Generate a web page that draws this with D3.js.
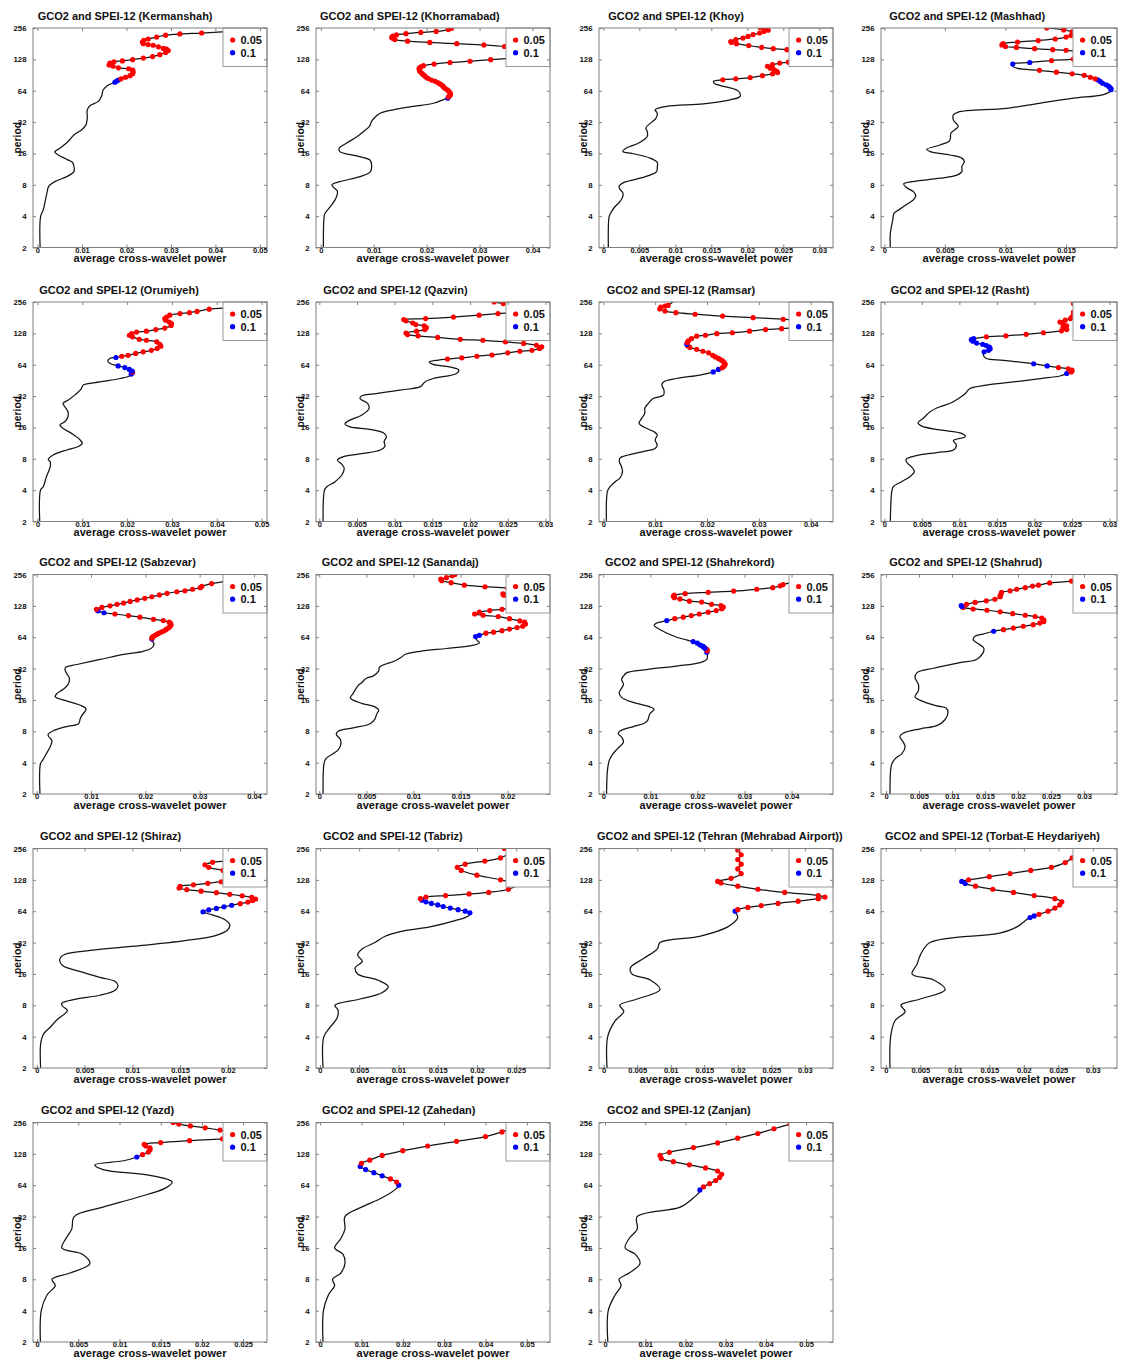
<!DOCTYPE html>
<html><head><meta charset="utf-8">
<script src="https://cdn.jsdelivr.net/npm/d3@7"></script>
<style>
body{margin:0;background:#fff}
text{font-family:"Liberation Sans",Arial,sans-serif;font-weight:bold;fill:#111}
</style>
</head><body>
<svg id="chart" width="1124" height="1360"></svg>
<script>
// ---------------- DATA ----------------
const stations = ["Kermanshah","Khorramabad","Khoy","Mashhad","Orumiyeh","Qazvin","Ramsar","Rasht",
  "Sabzevar","Sanandaj","Shahrekord","Shahrud","Shiraz","Tabriz","Tehran (Mehrabad Airport)",
  "Torbat-E Heydariyeh","Yazd","Zahedan","Zanjan"];
const titlePrefix = "GCO2 and SPEI-12";
const xLabel = "average cross-wavelet power";
const yLabel = "period";
const legendLabels = ["0.05","0.1"];
// log2(period) of the y ticks, and their labels
const yTickExp = [1,2,3,4,5,6,7,8];
const yTickLabels = [2,4,8,16,32,64,128,256];
const xDomains = [
  [-0.0010,0.0516],[-0.0009,0.0433],[-0.0006,0.0319],[-0.00027,0.0192],
  [-0.0010,0.0512],[-0.00044,0.0306],[-0.00083,0.0443],[-0.00044,0.0310],
  [-0.00068,0.0424],[-0.00035,0.0245],[-0.0009,0.0488],[-0.00076,0.0350],
  [-0.0004,0.0241],[-0.0005,0.0293],[-0.0007,0.0342],[-0.0007,0.0335],
  [-0.0005,0.0279],[-0.0010,0.0556],[-0.0015,0.0567]];
const xTicks = [
  [0,0.01,0.02,0.03,0.04,0.05],[0,0.01,0.02,0.03,0.04],[0,0.005,0.01,0.015,0.02,0.025,0.03],[0,0.005,0.01,0.015],
  [0,0.01,0.02,0.03,0.04,0.05],[0,0.005,0.01,0.015,0.02,0.025,0.03],[0,0.01,0.02,0.03,0.04],[0,0.005,0.01,0.015,0.02,0.025,0.03],
  [0,0.01,0.02,0.03,0.04],[0,0.005,0.01,0.015,0.02],[0,0.01,0.02,0.03,0.04],[0,0.005,0.01,0.015,0.02,0.025,0.03],
  [0,0.005,0.01,0.015,0.02],[0,0.005,0.01,0.015,0.02,0.025],[0,0.005,0.01,0.015,0.02,0.025,0.03],[0,0.005,0.01,0.015,0.02,0.025,0.03],
  [0,0.005,0.01,0.015,0.02,0.025],[0,0.01,0.02,0.03,0.04,0.05],[0,0.01,0.02,0.03,0.04,0.05]];

// Each point: [log2(period), average cross-wavelet power, significance flag (1 = 0.05, 2 = 0.1)]
const kermanshah = [[1.00,.0006],[1.98,.0007],[2.20,.0013],[2.52,.0018],[2.78,.0022],[2.94,.0025],[3.10,.0039],[3.26,.0066],[3.42,.0082],[3.58,.0082],[3.71,.0079],[3.81,.0066],[3.95,.0047],[4.05,.0039],[4.17,.0051],[4.38,.0069],[4.59,.0082],[4.75,.0099],[4.91,.0109],[5.12,.0112],[5.39,.0112],[5.52,.0118],[5.66,.0137],[5.82,.0144],[6.03,.0148],[6.16,.0157],[6.24,.0169],
 [6.27,.0174,2],[6.31,.0178,2],[6.34,.0182,2],
 [6.38,.0188,1],[6.43,.0198,1],[6.48,.0208,1],[6.54,.0214,1],[6.60,.0215,1],[6.66,.0214,1],[6.70,.0205,1],[6.73,.0182,1],[6.78,.0170,1],[6.82,.0161,1],[6.88,.0163,1],[6.92,.0172,1],[6.95,.0191,1],[6.99,.0214,1],[7.04,.0238,1],[7.09,.0259,1],[7.15,.0275,1],[7.22,.0288,1],[7.28,.0294,1],[7.33,.0290,1],[7.35,.0283,1],[7.40,.0272,1],[7.45,.0260,1],[7.47,.0249,1],[7.50,.0238,1],[7.55,.0236,1],[7.61,.0239,1],[7.65,.0249,1],[7.71,.0268,1],[7.77,.0288,1],[7.81,.0320,1],[7.84,.0369,1],[7.89,.0433,1],[7.95,.0520,1]];
const khorramabad = [[1.00,.0005],[1.93,.0006],[2.09,.0008],[2.30,.0018],[2.52,.0027],[2.68,.0031],[2.81,.0031],[2.92,.0024],[3.00,.0021],[3.10,.0036],[3.26,.0074],[3.42,.0094],[3.63,.0096],[3.79,.0093],[3.92,.0068],[4.06,.0036],[4.17,.0035],[4.33,.0049],[4.54,.0069],[4.70,.0081],[4.86,.0092],[5.02,.0096],[5.16,.0103],[5.28,.0112],[5.39,.0137],[5.50,.0175],[5.60,.0213],[5.71,.0231],
 [5.76,.0240,2],
 [5.80,.0241,1],[5.85,.0244,1],[5.89,.0245,1],[5.94,.0244,1],[5.98,.0242,1],[6.03,.0239,1],[6.07,.0235,1],[6.12,.0232,1],[6.16,.0230,1],[6.21,.0226,1],[6.25,.0222,1],[6.30,.0216,1],[6.34,.0209,1],[6.39,.0203,1],[6.43,.0199,1],[6.48,.0196,1],[6.52,.0193,1],[6.57,.0190,1],[6.62,.0187,1],[6.67,.0186,1],[6.72,.0186,1],[6.76,.0189,1],[6.80,.0194,1],[6.85,.0214,1],[6.90,.0244,1],[6.94,.0282,1],[6.99,.0321,1],[7.04,.0364,1],[7.12,.0410,1],[7.22,.0430,1],[7.32,.0400,1],[7.41,.0347,1],[7.46,.0308,1],[7.50,.0257,1],[7.54,.0206,1],[7.58,.0164,1],[7.63,.0140,1],[7.67,.0136,1],[7.70,.0134,1],[7.74,.0136,1],[7.78,.0143,1],[7.82,.0161,1],[7.86,.0189,1],[7.89,.0218,1],[7.95,.0241,1],[7.99,.0247,1]];
const khoy = [[1.00,.0007],[1.98,.0008],[2.09,.0010],[2.30,.0016],[2.46,.0023],[2.62,.0027],[2.75,.0027],[2.86,.0023],[2.96,.0022],[3.07,.0028],[3.18,.0046],[3.31,.0065],[3.42,.0074],[3.58,.0075],[3.71,.0075],[3.85,.0065],[3.99,.0042],[4.06,.0027],[4.17,.0032],[4.33,.0049],[4.54,.0061],[4.70,.0061],[4.81,.0059],[4.96,.0065],[5.12,.0073],[5.28,.0075],[5.39,.0072],[5.50,.0088],[5.58,.0139],[5.71,.0176],[5.82,.0190],[5.98,.0188],[6.12,.0171],[6.22,.0155],[6.30,.0153],
 [6.35,.0166,1],[6.38,.0184,1],[6.42,.0204,1],[6.48,.0221,1],[6.54,.0235,1],[6.58,.0242,1],[6.62,.0241,1],[6.65,.0238,1],[6.69,.0236,1],[6.72,.0232,1],[6.78,.0228,1],[6.83,.0235,1],[6.88,.0245,1],[6.91,.0257,1],[6.96,.0270,1],[7.05,.0290,1],[7.15,.0295,1],[7.24,.0275,1],[7.31,.0255,1],[7.34,.0236,1],[7.38,.0220,1],[7.44,.0202,1],[7.50,.0185,1],[7.54,.0178,1],[7.57,.0177,1],[7.63,.0184,1],[7.68,.0194,1],[7.73,.0201,1],[7.79,.0208,1],[7.84,.0217,1],[7.89,.0223,1],[7.93,.0229,1],[7.97,.0225,1],[8.01,.0218,1]];
const mashhad = [[1.00,.0005],[1.45,.0005],[1.88,.0007],[2.09,.0008],[2.20,.0012],[2.36,.0018],[2.52,.0024],[2.64,.0026],[2.78,.0024],[2.92,.0018],[3.03,.0016],[3.10,.0023],[3.21,.0046],[3.31,.0060],[3.42,.0064],[3.58,.0064],[3.74,.0066],[3.85,.0064],[3.95,.0054],[4.06,.0038],[4.13,.0035],[4.27,.0046],[4.41,.0054],[4.65,.0055],[4.75,.0058],[4.86,.0061],[5.07,.0057],[5.23,.0057],[5.32,.0061],[5.44,.0101],[5.60,.0128],[5.76,.0156],[5.87,.0180],[5.97,.0186],
 [6.03,.0187,2],[6.07,.0187,2],[6.11,.0186,2],[6.15,.0185,2],[6.19,.0183,2],[6.24,.0180,2],[6.30,.0178,2],[6.35,.0176,2],
 [6.38,.0174,1],[6.43,.0170,1],[6.49,.0165,1],[6.54,.0155,1],[6.59,.0142,1],[6.65,.0128,1],
 [6.71,.0110],[6.78,.0106],
 [6.85,.0106,2],[6.90,.0120,2],
 [6.96,.0138,1],[7.01,.0156,1],[7.07,.0170,1],[7.15,.0178,1],[7.23,.0165,1],[7.29,.0150,1],[7.31,.0139,1],[7.34,.0124,1],[7.38,.0109,1],[7.41,.0100,1],[7.46,.0097,1],[7.50,.0098,1],[7.55,.0110,1],[7.60,.0127,1],[7.65,.0141,1],[7.71,.0150,1],[7.76,.0154,1],[7.82,.0160,1],[7.88,.0155,1],[7.94,.0148,1],[8.00,.0134,1]];
const orumiyeh = [[1.00,.0005],[2.01,.0007],[2.11,.0013],[2.43,.0020],[2.64,.0026],[2.80,.0029],[2.91,.0028],[2.98,.0024],[3.12,.0035],[3.28,.0065],[3.39,.0091],[3.49,.0100],[3.62,.0094],[3.81,.0076],[3.97,.0057],[4.08,.0050],[4.18,.0061],[4.34,.0068],[4.50,.0068],[4.66,.0061],[4.77,.0057],[4.87,.0068],[5.03,.0083],[5.24,.0098],[5.35,.0102],[5.45,.0139],[5.56,.0184],[5.64,.0205],
 [5.70,.0209,2],[5.74,.0212,2],[5.77,.0212,1],[5.80,.0211,2],[5.85,.0205,2],[5.91,.0195,2],[5.96,.0180,2],
 [6.04,.0162],[6.12,.0157],[6.20,.0161],
 [6.23,.0175,2],[6.27,.0188,1],[6.30,.0202,1],[6.36,.0219,1],[6.41,.0236,1],[6.46,.0254,1],[6.52,.0267,1],[6.59,.0275,1],[6.65,.0273,1],[6.73,.0266,1],[6.78,.0243,1],[6.81,.0227,1],[6.89,.0212,1],[6.94,.0205,1],[6.99,.0210,1],[7.04,.0221,1],[7.07,.0243,1],[7.12,.0264,1],[7.17,.0284,1],[7.25,.0298,1],[7.31,.0299,1],[7.36,.0294,1],[7.42,.0286,1],[7.47,.0284,1],[7.52,.0288,1],[7.58,.0295,1],[7.63,.0318,1],[7.66,.0339,1],[7.70,.0356,1],[7.77,.0383,1],[7.82,.0430,1],[7.90,.0520,1]];
const qazvin = [[1.00,.0005],[2.01,.0007],[2.11,.0010],[2.27,.0021],[2.49,.0030],[2.70,.0033],[2.82,.0030],[2.96,.0024],[3.07,.0032],[3.17,.0058],[3.28,.0081],[3.39,.0087],[3.55,.0086],[3.71,.0089],[3.83,.0085],[3.94,.0067],[4.02,.0041],[4.11,.0034],[4.24,.0041],[4.39,.0056],[4.61,.0066],[4.77,.0064],[4.92,.0054],[5.00,.0056],[5.08,.0076],[5.19,.0107],[5.30,.0134],[5.45,.0140],[5.56,.0151],[5.72,.0182],[5.83,.0185],[5.93,.0173],[6.01,.0151],[6.09,.0146],[6.15,.0158],
 [6.18,.0170,1],[6.22,.0189,1],[6.27,.0209,1],[6.31,.0229,1],[6.38,.0250,1],[6.43,.0266,1],[6.46,.0282,1],[6.52,.0292,1],[6.57,.0295,1],[6.62,.0288,1],[6.68,.0271,1],[6.73,.0247,1],[6.78,.0217,1],[6.81,.0187,1],[6.87,.0157,1],[6.92,.0131,1],[6.96,.0117,1],[7.01,.0115,1],[7.07,.0129,1],[7.12,.0140,1],[7.18,.0142,1],[7.24,.0139,1],[7.28,.0128,1],[7.33,.0124,1],[7.40,.0115,1],[7.44,.0112,1],[7.47,.0141,1],[7.52,.0178,1],[7.58,.0212,1],[7.63,.0237,1],[7.70,.0270,1],[7.80,.0290,1],[7.88,.0280,1],[7.95,.0244,1],[8.00,.0232,1]];
const ramsar = [[1.00,.0006],[1.96,.0008],[2.11,.0013],[2.27,.0023],[2.38,.0032],[2.59,.0037],[2.75,.0035],[2.91,.0031],[3.02,.0032],[3.12,.0048],[3.23,.0077],[3.33,.0100],[3.44,.0104],[3.60,.0100],[3.76,.0104],[3.86,.0098],[4.02,.0077],[4.13,.0069],[4.29,.0074],[4.45,.0080],[4.61,.0080],[4.77,.0087],[4.92,.0096],[5.03,.0116],[5.19,.0117],[5.35,.0113],[5.45,.0116],[5.56,.0141],[5.67,.0186],
 [5.77,.0212,2],[5.85,.0222,2],
 [5.90,.0229,1],[5.94,.0232,1],[5.98,.0234,1],[6.02,.0235,1],[6.07,.0233,1],[6.12,.0230,1],[6.16,.0226,1],[6.20,.0222,1],[6.25,.0216,1],[6.30,.0211,1],[6.38,.0203,1],[6.43,.0192,1],[6.49,.0180,1],[6.55,.0167,1],[6.60,.0163,1],[6.65,.0161,2],[6.71,.0162,1],[6.76,.0164,1],[6.83,.0170,1],[6.91,.0180,1],[6.94,.0197,1],[6.99,.0219,1],[7.02,.0249,1],[7.07,.0282,1],[7.12,.0313,1],[7.15,.0344,1],[7.22,.0400,1],[7.32,.0420,1],[7.40,.0390,1],[7.45,.0347,1],[7.50,.0289,1],[7.55,.0230,1],[7.61,.0177,1],[7.66,.0140,1],[7.71,.0119,1],[7.78,.0109,1],[7.84,.0111,1],[7.87,.0119,1],[7.89,.0125,1],[7.95,.0130],[8.02,.0135]];
const rasht = [[1.00,.0008],[1.96,.0010],[2.11,.0012],[2.27,.0023],[2.43,.0034],[2.59,.0040],[2.75,.0036],[2.88,.0030],[2.98,.0029],[3.09,.0041],[3.20,.0070],[3.28,.0092],[3.44,.0096],[3.58,.0092],[3.71,.0108],[3.81,.0103],[3.92,.0074],[4.04,.0050],[4.15,.0045],[4.29,.0052],[4.50,.0061],[4.66,.0074],[4.77,.0088],[4.92,.0099],[5.08,.0108],[5.24,.0114],[5.35,.0136],[5.45,.0172],[5.56,.0208],[5.64,.0234],
 [5.72,.0243,2],[5.77,.0249,1],[5.80,.0250,1],[5.83,.0250,1],[5.87,.0245,1],[5.91,.0232,1],[5.96,.0217,2],[6.03,.0199,2],
 [6.14,.0159],[6.20,.0136],[6.30,.0132],
 [6.41,.0133,2],[6.46,.0139,2],[6.51,.0141,2],[6.56,.0140,2],[6.61,.0136,2],[6.65,.0131,2],[6.69,.0123,2],[6.75,.0118,2],[6.80,.0116,2],[6.83,.0119,2],
 [6.89,.0136,1],[6.92,.0162,1],[6.97,.0189,1],[7.02,.0212,1],[7.08,.0236,1],[7.12,.0243,1],[7.18,.0238,1],[7.24,.0243,1],[7.31,.0238,1],[7.36,.0234,1],[7.42,.0241,1],[7.47,.0248,1],[7.53,.0250,1],[7.58,.0252,1],[7.68,.0252,1],[7.79,.0255,1],[7.95,.0252,1]];
const sabzevar = [[1.00,.0006],[1.97,.0007],[2.08,.0011],[2.29,.0018],[2.55,.0026],[2.71,.0028],[2.81,.0023],[2.90,.0021],[3.02,.0031],[3.15,.0055],[3.24,.0077],[3.39,.0080],[3.50,.0083],[3.71,.0091],[3.81,.0083],[3.97,.0055],[4.10,.0034],[4.20,.0037],[4.34,.0049],[4.50,.0058],[4.71,.0060],[4.82,.0056],[4.97,.0052],[5.05,.0054],[5.13,.0074],[5.29,.0117],[5.45,.0160],[5.55,.0196],[5.66,.0212],[5.79,.0216],[5.87,.0213],
 [5.94,.0212,2],[5.97,.0212,1],[6.00,.0213,1],[6.03,.0215,1],[6.06,.0218,1],[6.09,.0221,1],[6.12,.0224,1],[6.16,.0229,1],[6.19,.0233,1],[6.23,.0237,1],[6.26,.0239,1],[6.30,.0243,1],[6.34,.0245,1],[6.38,.0247,1],[6.42,.0247,1],[6.45,.0246,1],[6.48,.0244,1],[6.53,.0233,1],[6.57,.0215,1],[6.64,.0190,1],[6.69,.0169,1],[6.74,.0144,1],[6.78,.0124,2],[6.84,.0113,2],[6.86,.0112,2],[6.89,.0110,1],[6.95,.0120,1],[7.00,.0135,1],[7.05,.0148,1],[7.09,.0160,1],[7.14,.0172,1],[7.19,.0185,1],[7.24,.0199,1],[7.29,.0212,1],[7.35,.0226,1],[7.40,.0240,1],[7.45,.0258,1],[7.48,.0273,1],[7.53,.0287,1],[7.58,.0301,1],[7.62,.0304,1],[7.71,.0322,1],[7.79,.0356,1],[7.86,.0400,1],[7.95,.0440,1]];
const sanandaj = [[1.00,.0004],[1.97,.0005],[2.13,.0007],[2.29,.0015],[2.41,.0020],[2.60,.0023],[2.76,.0022],[2.90,.0018],[3.00,.0020],[3.11,.0036],[3.24,.0054],[3.39,.0059],[3.55,.0061],[3.68,.0063],[3.78,.0059],[3.89,.0045],[4.06,.0033],[4.21,.0036],[4.45,.0041],[4.55,.0045],[4.69,.0050],[4.76,.0057],[4.92,.0063],[5.05,.0064],[5.24,.0080],[5.36,.0087],[5.45,.0091],[5.55,.0107],[5.64,.0135],[5.73,.0161],[5.82,.0170],[5.92,.0167],[5.98,.0166],
 [6.02,.0166,2],[6.06,.0170,2],
 [6.13,.0177,1],[6.16,.0185,1],[6.21,.0194,1],[6.26,.0202,1],[6.31,.0210,1],[6.35,.0216,1],[6.42,.0219,1],[6.48,.0218,1],[6.52,.0213,1],[6.59,.0202,1],[6.66,.0190,1],[6.70,.0174,1],[6.74,.0165,1],[6.80,.0170,1],[6.85,.0181,1],[6.89,.0194,1],[7.00,.0220,1],[7.15,.0228,1],[7.28,.0215,1],[7.34,.0196,1],[7.38,.0195,1],[7.47,.0210,1],[7.56,.0200,1],[7.61,.0176,1],[7.66,.0154,1],[7.74,.0140,1],[7.80,.0130,1],[7.85,.0129,1],[7.90,.0135,1],[7.96,.0141,1],[8.00,.0144,1]];
const shahrekord = [[1.00,.0007],[1.76,.0009],[2.08,.0013],[2.29,.0021],[2.44,.0030],[2.66,.0043],[2.81,.0039],[2.92,.0032],[3.00,.0035],[3.15,.0064],[3.24,.0085],[3.34,.0094],[3.56,.0099],[3.70,.0108],[3.78,.0099],[3.92,.0064],[4.08,.0039],[4.24,.0034],[4.37,.0039],[4.50,.0043],[4.66,.0039],[4.76,.0043],[4.87,.0050],[4.97,.0092],[5.08,.0156],[5.19,.0206],[5.29,.0220],[5.45,.0221],
 [5.52,.0220,2],[5.57,.0221,1],[5.61,.0220,1],[5.65,.0216,2],[5.69,.0213,2],[5.72,.0211,2],[5.75,.0206,2],[5.81,.0200,2],[5.86,.0191,2],
 [6.00,.0156],[6.24,.0121],[6.38,.0108],[6.45,.0113],
 [6.53,.0135,2],[6.59,.0152,1],[6.64,.0170,1],[6.69,.0187,1],[6.74,.0204,1],[6.80,.0223,1],[6.85,.0240,1],[6.91,.0252,1],[6.96,.0255,1],[7.01,.0250,1],[7.05,.0230,1],[7.12,.0209,1],[7.15,.0183,1],[7.22,.0163,1],[7.26,.0151,1],[7.31,.0149,1],[7.34,.0151,1],[7.39,.0174,1],[7.43,.0223,1],[7.47,.0277,1],[7.53,.0326,1],[7.58,.0360,1],[7.64,.0376,1],[7.68,.0382,1],[7.74,.0400,1],[7.82,.0440,1],[7.92,.0500,1]];
const shahrud = [[1.00,.0006],[1.76,.0007],[1.97,.0009],[2.13,.0014],[2.29,.0024],[2.50,.0029],[2.66,.0026],[2.83,.0021],[2.94,.0026],[3.08,.0052],[3.18,.0077],[3.36,.0089],[3.60,.0094],[3.74,.0091],[3.81,.0077],[3.97,.0054],[4.10,.0044],[4.29,.0049],[4.50,.0049],[4.71,.0044],[4.87,.0047],[5.01,.0072],[5.19,.0112],[5.29,.0137],[5.50,.0147],[5.66,.0148],[5.79,.0140],[5.92,.0132],[6.03,.0135],[6.10,.0147],
 [6.19,.0163,2],[6.24,.0178,1],[6.29,.0193,1],[6.35,.0208,1],[6.40,.0223,1],[6.45,.0233,1],[6.50,.0239,1],[6.55,.0239,1],[6.61,.0236,1],[6.66,.0226,1],[6.70,.0211,1],[6.75,.0192,1],[6.81,.0173,1],[6.86,.0153,1],[6.90,.0132,1],[6.95,.0117,1],[6.98,.0115,2],[7.01,.0114,2],[7.05,.0122,1],[7.11,.0135,1],[7.16,.0152,1],[7.21,.0165,1],[7.29,.0173,1],[7.33,.0173,1],[7.37,.0174,1],[7.43,.0175,1],[7.48,.0188,1],[7.53,.0198,1],[7.58,.0211,1],[7.63,.0222,1],[7.66,.0231,1],[7.73,.0248,1],[7.79,.0281,1],[7.86,.0330,1],[7.95,.0360,1]];
const shiraz = [[1.00,.0004],[1.76,.0004],[2.08,.0007],[2.30,.0014],[2.56,.0022],[2.75,.0030],[2.84,.0032],[2.97,.0027],[3.06,.0026],[3.19,.0040],[3.32,.0066],[3.48,.0082],[3.63,.0085],[3.76,.0082],[3.89,.0066],[4.08,.0045],[4.27,.0027],[4.46,.0024],[4.62,.0029],[4.75,.0056],[4.90,.0108],[5.06,.0155],[5.22,.0187],[5.41,.0200],[5.57,.0202],[5.73,.0197],[5.89,.0183],
 [5.98,.0174,2],[6.04,.0180,2],[6.09,.0188,2],[6.14,.0196,2],[6.19,.0204,2],[6.24,.0213,1],[6.29,.0221,1],[6.34,.0226,1],[6.39,.0229,1],[6.44,.0225,1],[6.49,.0215,1],[6.54,.0202,1],[6.59,.0188,1],[6.64,.0172,1],[6.69,.0157,1],[6.74,.0149,1],[6.79,.0150,1],[6.84,.0164,1],[6.89,.0179,1],[6.94,.0193,1],[7.05,.0215,1],[7.20,.0210,1],[7.30,.0195,1],[7.40,.0180,1],[7.48,.0176,1],[7.56,.0184,1],[7.65,.0220,1],[7.80,.0230,1],[7.95,.0220,1]];
const tabriz = [[1.00,.0004],[2.00,.0005],[2.30,.0013],[2.60,.0022],[2.85,.0023],[3.00,.0019],[3.20,.0051],[3.40,.0079],[3.60,.0087],[3.80,.0074],[4.00,.0048],[4.20,.0045],[4.40,.0054],[4.60,.0048],[4.80,.0054],[5.00,.0070],[5.20,.0083],[5.35,.0102],[5.50,.0140],[5.70,.0172],[5.85,.0189],
 [5.95,.0191,2],[6.00,.0185,2],[6.05,.0176,2],[6.10,.0166,2],[6.15,.0157,2],[6.20,.0150,2],[6.25,.0142,2],[6.30,.0135,2],[6.35,.0130,2],[6.40,.0128,1],[6.45,.0135,1],[6.50,.0160,1],[6.55,.0190,1],[6.60,.0215,1],[6.70,.0240,1],[6.85,.0250,1],[7.00,.0230,1],[7.15,.0200,1],[7.30,.0180,1],[7.40,.0175,1],[7.50,.0185,1],[7.60,.0210,1],[7.70,.0230,1],[7.85,.0240,1],[8.00,.0235,1]];
const tehran = [[1.00,.0005],[2.00,.0006],[2.50,.0017],[2.80,.0030],[3.00,.0024],[3.20,.0050],[3.50,.0084],[3.80,.0070],[4.00,.0042],[4.20,.0040],[4.50,.0060],[4.80,.0080],[5.00,.0084],[5.20,.0143],[5.50,.0185],[5.80,.0200],
 [6.00,.0196,2],[6.05,.0200,1],[6.12,.0215,1],[6.18,.0235,1],[6.25,.0260,1],[6.32,.0290,1],[6.40,.0320,1],[6.45,.0330,1],[6.50,.0320,1],[6.60,.0270,1],[6.70,.0230,1],[6.80,.0200,1],[6.90,.0175,1],[6.95,.0170,1],[7.05,.0190,1],[7.20,.0205,1],[7.35,.0200,1],[7.50,.0205,1],[7.65,.0200,1],[7.80,.0205,1],[7.95,.0200,1]];
const torbat = [[1.00,.0006],[2.00,.0007],[2.50,.0013],[2.80,.0028],[3.00,.0022],[3.20,.0050],[3.50,.0086],[3.80,.0070],[4.00,.0038],[4.30,.0045],[4.60,.0050],[5.00,.0064],[5.30,.0165],[5.50,.0190],[5.75,.0205],
 [5.80,.0209,2],[5.85,.0215,2],[5.90,.0222,1],[6.00,.0235,1],[6.10,.0245,1],[6.20,.0252,1],[6.30,.0255,1],[6.40,.0245,1],[6.50,.0215,1],[6.60,.0185,1],[6.70,.0155,1],[6.80,.0130,1],[6.88,.0115,2],[6.95,.0110,2],[7.00,.0120,1],[7.10,.0150,1],[7.20,.0180,1],[7.30,.0210,1],[7.40,.0240,1],[7.55,.0260,1],[7.70,.0270,1],[7.85,.0280,1],[8.00,.0290,1]];
const yazd = [[1.00,.0004],[2.00,.0005],[2.50,.0012],[2.80,.0022],[3.00,.0018],[3.20,.0040],[3.50,.0064],[3.80,.0055],[4.00,.0030],[4.30,.0035],[4.60,.0042],[5.00,.0045],[5.30,.0080],[5.60,.0120],[5.90,.0155],[6.10,.0164],[6.30,.0140],[6.50,.0080],[6.65,.0070],[6.78,.0105],
 [6.90,.0121,2],[6.98,.0128,1],[7.06,.0135,1],[7.13,.0137,1],[7.19,.0137,1],[7.25,.0132,1],[7.30,.0130,1],[7.36,.0150,1],[7.42,.0185,1],[7.48,.0225,1],[7.55,.0255,1],[7.62,.0250,1],[7.70,.0235,1],[7.76,.0222,1],[7.83,.0204,1],[7.89,.0186,1],[7.95,.0172,1],[8.00,.0165,1]];
const zahedan = [[1.00,.0007],[2.00,.0008],[2.50,.0020],[2.80,.0035],[3.00,.0030],[3.20,.0050],[3.50,.0060],[3.80,.0055],[4.00,.0035],[4.30,.0050],[4.60,.0060],[5.00,.0060],[5.30,.0100],[5.60,.0150],[5.90,.0185],
 [6.00,.0190,2],[6.10,.0185,1],[6.20,.0170,1],[6.30,.0150,2],[6.40,.0130,2],[6.50,.0110,2],[6.60,.0097,2],[6.70,.0100,1],[6.80,.0120,1],[6.95,.0150,1],[7.10,.0200,1],[7.25,.0260,1],[7.40,.0330,1],[7.55,.0400,1],[7.70,.0440,1],[7.85,.0470,1],[8.00,.0500,1]];
const zanjan = [[1.00,.0007],[2.00,.0008],[2.50,.0025],[2.80,.0040],[3.00,.0035],[3.20,.0060],[3.50,.0087],[3.80,.0075],[4.00,.0050],[4.30,.0060],[4.60,.0080],[5.00,.0080],[5.30,.0187],[5.60,.0220],[5.80,.0236],
 [5.85,.0236,2],[5.95,.0245,1],[6.05,.0260,1],[6.15,.0275,1],[6.25,.0285,1],[6.35,.0290,1],[6.45,.0280,1],[6.55,.0250,1],[6.65,.0210,1],[6.75,.0170,1],[6.85,.0140,1],[6.95,.0137,1],[7.05,.0160,1],[7.20,.0220,1],[7.35,.0280,1],[7.50,.0330,1],[7.65,.0380,1],[7.80,.0420,1],[7.95,.0460,1]];

const curves = [kermanshah,khorramabad,khoy,mashhad,orumiyeh,qazvin,ramsar,rasht,sabzevar,sanandaj,
  shahrekord,shahrud,shiraz,tabriz,tehran,torbat,yazd,zahedan,zanjan];

// ---------------- LAYOUT ----------------
const colLeft = [33,316,599,881], colW = [234,234,234,236];
const rowTop = [28,302,574.5,848.5,1122.5], plotH = 219.5;
const titleDx = [4.7,4,9.3,8.3,6.3,7.3,7.7,9.7,6.3,5.7,6,8.3,7,7,-2,4,8,6,8];
const frameColor = "#808080";
const sigColors = {1:"#ff0000", 2:"#0000ff"};

const svg = d3.select("#chart");
svg.append("rect").attr("width",1124).attr("height",1360).attr("fill","#fff");

stations.forEach((name, i) => {
  const r = Math.floor(i/4), c = i%4;
  const L = colLeft[c], T = rowTop[r], W = colW[c], H = plotH;
  const g = svg.append("g").attr("transform", `translate(${L},${T})`);
  const x = d3.scaleLinear().domain(xDomains[i]).range([0, W]);
  const y = d3.scaleLinear().domain([1, 8]).range([H, 0]);

  const clipId = "clip" + i;
  g.append("clipPath").attr("id", clipId).append("rect").attr("width", W).attr("height", H);
  const pg = g.append("g").attr("clip-path", `url(#${clipId})`);

  const line = d3.line().x(d => x(d[1])).y(d => y(d[0])).curve(d3.curveCatmullRom.alpha(0.5));
  pg.append("path").datum(curves[i]).attr("d", line)
    .attr("fill","none").attr("stroke","#141414").attr("stroke-width",1.25);
  pg.selectAll("circle").data(curves[i].filter(d => d[2])).join("circle")
    .attr("cx", d => x(d[1])).attr("cy", d => y(d[0])).attr("r", 2.6)
    .attr("fill", d => sigColors[d[2]]);

  // legend
  const lg = g.append("g").attr("transform", `translate(${W-44},0)`);
  lg.append("rect").attr("width",44).attr("height",38.5).attr("fill","#fff").attr("stroke","#9a9a9a").attr("stroke-width",1);
  [1,2].forEach((f,k) => {
    lg.append("circle").attr("cx",9.6).attr("cy",12+k*12.7).attr("r",2.6).attr("fill",sigColors[f]);
    lg.append("text").attr("x",17.5).attr("y",16+k*12.7).attr("font-size",11).text(legendLabels[k]);
  });

  // frame
  g.append("rect").attr("width",W).attr("height",H).attr("fill","none").attr("stroke",frameColor).attr("stroke-width",1);

  // axes
  const ax = g.append("g").call(d3.axisLeft(y).tickValues(yTickExp).tickSize(-3).tickPadding(6.5)
      .tickFormat((d,k) => yTickLabels[k]));
  ax.select(".domain").remove();
  ax.selectAll("line").attr("stroke",frameColor);
  ax.selectAll("text").attr("font-size",7.8).attr("fill","#111").style("font-family",null);
  const axr = g.append("g").attr("transform",`translate(${W},0)`).call(d3.axisRight(y).tickValues(yTickExp).tickSize(-3).tickFormat(""));
  axr.select(".domain").remove(); axr.selectAll("line").attr("stroke",frameColor);

  const bx = g.append("g").attr("transform",`translate(0,${H})`)
    .call(d3.axisBottom(x).tickValues(xTicks[i]).tickSize(-3).tickFormat(v => String(+v.toFixed(4))));
  bx.select(".domain").remove();
  bx.selectAll("line").attr("stroke",frameColor);
  bx.selectAll("text").attr("font-size",7.5).attr("fill","#111").attr("dy",null).attr("y",5).style("font-family",null);
  const tx = g.append("g").call(d3.axisTop(x).tickValues(xTicks[i]).tickSize(-3).tickFormat(""));
  tx.select(".domain").remove(); tx.selectAll("line").attr("stroke",frameColor);

  // labels
  g.append("text").attr("x", titleDx[i]).attr("y", -8.5).attr("font-size", 11)
    .text(`${titlePrefix} (${name})`);
  g.append("text").attr("x", W/2).attr("y", H + 14.5).attr("font-size", 11).attr("text-anchor","middle").text(xLabel);
  g.append("text").attr("transform", `translate(-12.5,${H/2}) rotate(-90)`).attr("font-size", 10.3)
    .attr("text-anchor","middle").text(yLabel);
});
</script>
</body></html>
